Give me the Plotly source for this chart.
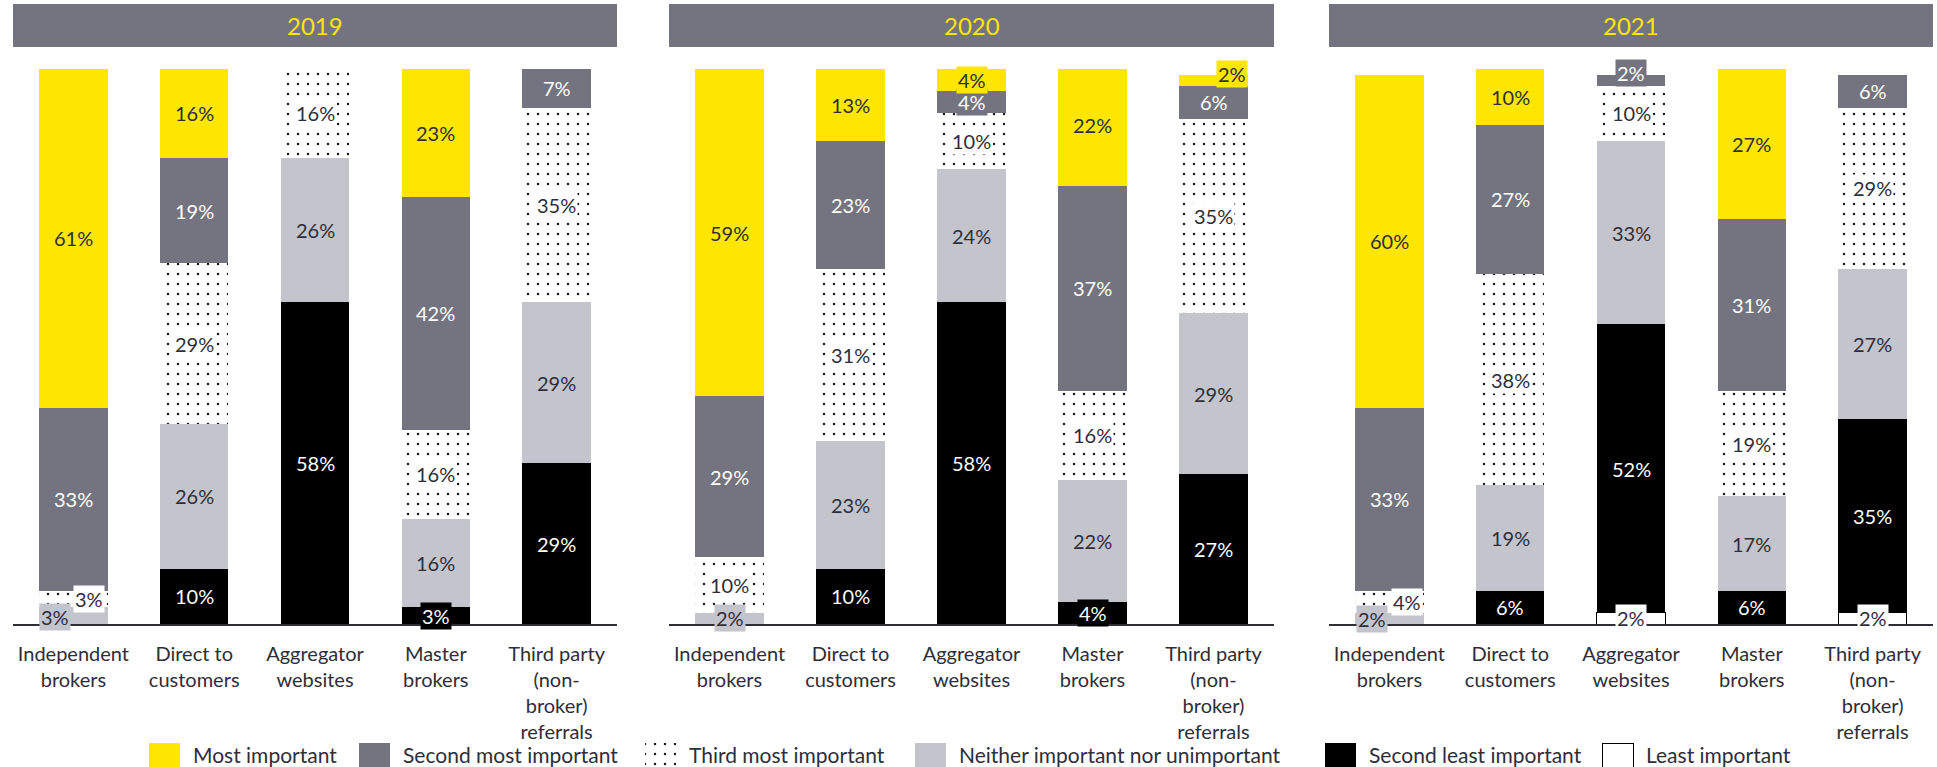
import plotly.graph_objects as go

# ---- data -------------------------------------------------------------
years = ["2019", "2020", "2021"]
categories = [
    "Independent<br>brokers",
    "Direct to<br>customers",
    "Aggregator<br>websites",
    "Master<br>brokers",
    "Third party<br>(non-<br>broker)<br>referrals",
]
series_names = [
    "Most important",
    "Second most important",
    "Third most important",
    "Neither important nor unimportant",
    "Second least important",
    "Least important",
]

most_important = {"2019": [61, 16, 0, 23, 0], "2020": [59, 13, 4, 22, 2], "2021": [60, 10, 0, 27, 0]}
second_most = {"2019": [33, 19, 0, 42, 7], "2020": [29, 23, 4, 37, 6], "2021": [33, 27, 2, 31, 6]}
third_most = {"2019": [3, 29, 16, 16, 35], "2020": [10, 31, 10, 16, 35], "2021": [4, 38, 10, 19, 29]}
neither = {"2019": [3, 26, 26, 16, 29], "2020": [2, 23, 24, 22, 29], "2021": [2, 19, 33, 17, 27]}
second_least = {"2019": [0, 10, 58, 3, 29], "2020": [0, 10, 58, 4, 27], "2021": [0, 6, 52, 6, 35]}
least = {"2019": [0, 0, 0, 0, 0], "2020": [0, 0, 0, 0, 0], "2021": [0, 0, 2, 0, 2]}

# ---- styling ----------------------------------------------------------
YELLOW = "#FFE600"
DARK_GREY = "#747480"
LIGHT_GREY = "#C4C4CD"
BLACK = "#000000"
INK = "#2E2E38"
FONT = "Lato"
WEIGHT = 400

series_style = {
    "Most important": dict(color=YELLOW, text="#2E2E38"),
    "Second most important": dict(color=DARK_GREY, text="white"),
    "Third most important": dict(color="white", text="#2E2E38"),
    "Neither important nor unimportant": dict(color=LIGHT_GREY, text="#2E2E38"),
    "Second least important": dict(color=BLACK, text="white"),
    "Least important": dict(color="white", text="#2E2E38"),
}
series_data = {
    "Most important": most_important,
    "Second most important": second_most,
    "Third most important": third_most,
    "Neither important nor unimportant": neither,
    "Second least important": second_least,
    "Least important": least,
}
stack_order = list(reversed(series_names))  # bottom -> top


def bar_marker(name):
    st = series_style[name]
    m = dict(color=st["color"], line=dict(width=0))
    if name == "Third most important":
        m["pattern"] = dict(shape=".", fgcolor="#1A1A24", bgcolor="white",
                            size=10, solidity=0.05, fillmode="replace")
    if name == "Least important":
        m["line"] = dict(color=BLACK, width=1)
    return m


# small segments whose labels are nudged sideways / upward (pixels)
label_nudge = {
    ("2019", 0, "Third most important"): (16, 0),
    ("2019", 0, "Neither important nor unimportant"): (-18, -1),
    ("2020", 4, "Most important"): (18, 6),
    ("2021", 0, "Third most important"): (18, 0),
    ("2021", 0, "Neither important nor unimportant"): (-17, -1),
    ("2021", 2, "Second most important"): (0, 7),
}

W, H = 1937, 767
domains = [(13, 617), (669, 1274), (1329, 1933)]
y_dom = (1 - 624 / H, 1 - 69 / H)
header_y = (1 - 47 / H, 1 - 4 / H)

# legend strip: square left edges in pixels
legend_left = [149, 359, 645, 915, 1325, 1602]
LEG_SQ = 31
legend_top = 743

fig = go.Figure()
annotations = []
shapes = []

for i, year in enumerate(years):
    sfx = "" if i == 0 else str(i + 1)
    xref, yref = "x" + sfx, "y" + sfx
    base = [0] * len(categories)
    for name in stack_order:
        vals = series_data[name][year]
        st = series_style[name]
        fig.add_trace(go.Bar(
            x=categories, y=[v if v else None for v in vals],
            name=name, marker=bar_marker(name), xaxis=xref, yaxis=yref,
            showlegend=False,
            hovertemplate=name + ": %{y}%<extra></extra>",
        ))
        for j, v in enumerate(vals):
            if v:
                dx, dy = label_nudge.get((year, j, name), (0, 0))
                annotations.append(dict(
                    x=categories[j], y=base[j] + v / 2, xref=xref, yref=yref,
                    text=f"{v}%", showarrow=False, xshift=dx, yshift=dy,
                    font=dict(family=FONT, size=20, color=st["text"], weight=WEIGHT),
                    bgcolor=st["color"], borderpad=1,
                ))
            base[j] += v

    x0, x1 = domains[i]
    shapes.append(dict(type="rect", xref="paper", yref="paper",
                       x0=x0 / W, x1=x1 / W, y0=header_y[0], y1=header_y[1],
                       fillcolor=DARK_GREY, line=dict(width=0), layer="below"))
    annotations.append(dict(x=(x0 + x1) / 2 / W, y=sum(header_y) / 2, xref="paper", yref="paper",
                            text=year, showarrow=False, xanchor="center", yanchor="middle",
                            font=dict(family=FONT, size=24, color=YELLOW, weight=WEIGHT)))

# legend drawn on its own pixel-scaled axis so the swatches can be large
for k, name in enumerate(series_names):
    left = legend_left[k]
    fig.add_trace(go.Bar(
        x=[left + LEG_SQ / 2], y=[H - legend_top], width=[LEG_SQ], base=[0],
        marker=bar_marker(name), xaxis="x4", yaxis="y4", showlegend=False,
        hoverinfo="skip",
    ))
    annotations.append(dict(
        x=left + LEG_SQ + 11, y=(H - legend_top) / 2 + 0.5, xref="x4", yref="y4",
        text=name, showarrow=False, xanchor="left", yanchor="middle",
        font=dict(family=FONT, size=21, color=INK, weight=WEIGHT),
    ))

layout = dict(
    width=W, height=H,
    margin=dict(l=0, r=0, t=0, b=0),
    paper_bgcolor="white", plot_bgcolor="white",
    barmode="stack", bargap=0.435,
    font=dict(family=FONT, color=INK, size=18),
    showlegend=False,
    annotations=annotations, shapes=shapes,
    xaxis4=dict(domain=[0, 1], range=[0, W], visible=False, anchor="y4", fixedrange=True),
    yaxis4=dict(domain=[0, (H - legend_top + 4) / H], range=[0, H - legend_top + 4],
                visible=False, anchor="x4", fixedrange=True),
)
for i in range(3):
    sfx = "" if i == 0 else str(i + 1)
    x0, x1 = domains[i]
    layout["xaxis" + sfx] = dict(domain=[x0 / W, x1 / W], anchor="y" + sfx, showgrid=False,
                                 showline=True, linecolor=INK, linewidth=2, ticks="",
                                 tickfont=dict(family=FONT, size=20, color=INK, weight=WEIGHT),
                                 ticklabelstandoff=11, fixedrange=True)
    layout["yaxis" + sfx] = dict(domain=list(y_dom), anchor="x" + sfx, range=[0, 100],
                                 visible=False, fixedrange=True)

fig.update_layout(**layout)
fig.write_html("out.html")
